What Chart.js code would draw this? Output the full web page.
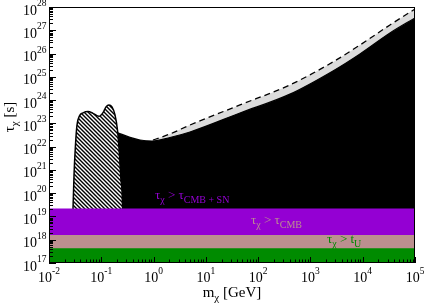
<!DOCTYPE html>
<html>
<head>
<meta charset="utf-8">
<script src="https://cdn.jsdelivr.net/npm/chart.js@4.4.1/dist/chart.umd.min.js"></script>
<style>
  html, body { margin: 0; padding: 0; background: #fff; }
  canvas { display: block; }
</style>
</head>
<body>
<canvas id="grafico" width="424" height="305" style="width:424px;height:305px"></canvas>
<script>
// ============================
// DADOS
// ============================
const massDecades = [-2, -1, 0, 1, 2, 3, 4, 5];
const tauDecades = [17, 18, 19, 20, 21, 22, 23, 24, 25, 26, 27, 28];

// regiao hachurada (dois picos)
const hatchMass = [0.0275, 0.0288, 0.0301, 0.0321, 0.0343, 0.0383, 0.0447, 0.0557, 0.0694, 0.0904,
                   0.108, 0.123, 0.140, 0.160, 0.183, 0.204, 0.223, 0.238, 0.255, 0.260];
const hatchTau = [1e17, 2.3e19, 6.0e20, 1.2e22, 8.5e22, 2.1e23, 2.8e23, 3.2e23, 2.7e23, 2.0e23,
                  2.9e23, 5.1e23, 6.2e23, 5.1e23, 2.3e23, 5.2e22, 4.4e21, 3.7e20, 2.3e19, 1e17];

// limite da regiao preta (linha cheia)
const boundMass = [0.209, 0.354, 0.550, 0.933, 2.06, 4.97, 45.0, 406, 2700, 8870, 33200, 1e5];
const boundTau = [3.9e22, 2.5e22, 1.93e22, 1.75e22, 2.47e22, 4.27e22, 2.79e23, 1.8e24, 1.78e25, 9.6e25, 7.65e26, 3.4e27];

// linha tracejada (topo da faixa cinza)
const dashMass = [0.975, 2.06, 4.97, 45.0, 406, 2700, 8870, 33200, 1e5];
const dashTau = [1.93e22, 3.5e22, 8.5e22, 6.2e23, 4.5e24, 4.35e25, 2.33e26, 1.69e27, 8.2e27];

// faixas horizontais: CMB+SN, CMB, idade do universo
const bandTau = [2.2e19, 1.6e18, 4.35e17];
const bandColors = ["#9400d3", "#bc8f8f", "#008b00"];

const massRange = [1e-2, 1e5];
const tauRange = [1e17, 1e28];

const SERIF = "'Liberation Serif', 'Times New Roman', serif";

function pontos(xs, ys) {
    return xs.map((v, i) => ({ x: v, y: ys[i] }));
}

// ============================
// PADRAO HACHURADO
// ============================
function criarHachura() {
    const p = document.createElement("canvas");
    p.width = 4; p.height = 4;
    const c = p.getContext("2d");
    c.fillStyle = "#fff";
    c.fillRect(0, 0, 4, 4);
    c.strokeStyle = "#000";
    c.lineWidth = 1.4;
    c.beginPath();
    c.moveTo(-1, -1); c.lineTo(5, 5);
    c.moveTo(-1, 3); c.lineTo(1, 5);
    c.moveTo(3, -1); c.lineTo(5, 1);
    c.stroke();
    return c.createPattern(p, "repeat");
}

// ============================
// TEXTO COM SUB/SOBRESCRITO
// ============================
function larguraTexto(ctx, partes) {
    let w = 0;
    partes.forEach(p => {
        ctx.font = p.size + "px " + SERIF;
        w += ctx.measureText(p.t).width;
    });
    return w;
}

function desenharTexto(ctx, x, y, partes) {
    partes.forEach(p => {
        ctx.font = p.size + "px " + SERIF;
        ctx.fillText(p.t, x, y + (p.dy || 0));
        x += ctx.measureText(p.t).width;
    });
}

const decorPlugin = {
    id: "decor",
    afterDatasetsDraw(chart) {
        const { ctx, chartArea: a, scales } = chart;
        const xs = scales.x, ys = scales.y;
        ctx.save();

        // borda
        ctx.strokeStyle = "#000";
        ctx.lineWidth = 1;
        ctx.strokeRect(a.left + 0.5, a.top + 0.5, a.right - a.left - 1, a.bottom - a.top - 1);

        // ticks para dentro
        ctx.beginPath();
        massDecades.forEach(e => {
            for (let k = 1; k <= 9; k++) {
                const v = k * Math.pow(10, e);
                if (v < massRange[0] || v > massRange[1]) continue;
                const px = Math.round(xs.getPixelForValue(v)) + 0.5;
                const len = k === 1 ? 6 : 3.5;
                ctx.moveTo(px, a.bottom);
                ctx.lineTo(px, a.bottom - len);
            }
        });
        tauDecades.forEach(e => {
            for (let k = 1; k <= 9; k++) {
                const v = k * Math.pow(10, e);
                if (v < tauRange[0] || v > tauRange[1]) continue;
                const py = Math.round(ys.getPixelForValue(v)) + 0.5;
                const len = k === 1 ? 7 : 4;
                ctx.moveTo(a.left, py);
                ctx.lineTo(a.left + len, py);
            }
        });
        ctx.stroke();

        // rotulos dos eixos
        ctx.fillStyle = "#000";
        ctx.textBaseline = "alphabetic";
        ctx.textAlign = "left";
        massDecades.forEach(e => {
            const px = xs.getPixelForValue(Math.pow(10, e));
            const partes = [{ t: "10", size: 14 }, { t: String(e), size: 9.5, dy: -8.5 }];
            const w = larguraTexto(ctx, partes);
            desenharTexto(ctx, px - w / 2, a.bottom + 19, partes);
        });
        tauDecades.forEach(e => {
            const py = ys.getPixelForValue(Math.pow(10, e));
            const partes = [{ t: "10", size: 14 }, { t: String(e), size: 9.5, dy: -8.5 }];
            const w = larguraTexto(ctx, partes);
            desenharTexto(ctx, 46.5 - w, py + 7.5, partes);
        });

        // titulo eixo x
        const tituloX = [{ t: "m", size: 15 }, { t: "\u03c7", size: 11, dy: 4 }, { t: " [GeV]", size: 15 }];
        const wx = larguraTexto(ctx, tituloX);
        desenharTexto(ctx, (a.left + a.right) / 2 - wx / 2, 297, tituloX);

        // titulo eixo y
        const tituloY = [{ t: "\u03c4", size: 15 }, { t: "\u03c7", size: 11, dy: 4 }, { t: " [s]", size: 15 }];
        const wy = larguraTexto(ctx, tituloY);
        ctx.save();
        ctx.translate(14, 117);
        ctx.rotate(-Math.PI / 2);
        desenharTexto(ctx, -wy / 2, 0, tituloY);
        ctx.restore();

        // anotacoes das faixas
        ctx.fillStyle = bandColors[0];
        desenharTexto(ctx, 155, 199, [
            { t: "\u03c4", size: 13 }, { t: "\u03c7", size: 10, dy: 4 }, { t: " > ", size: 13 },
            { t: "\u03c4", size: 13 }, { t: "CMB + SN", size: 10, dy: 4 }
        ]);
        ctx.fillStyle = bandColors[1];
        desenharTexto(ctx, 251, 224, [
            { t: "\u03c4", size: 13 }, { t: "\u03c7", size: 10, dy: 4 }, { t: " > ", size: 13 },
            { t: "\u03c4", size: 13 }, { t: "CMB", size: 10, dy: 4 }
        ]);
        ctx.fillStyle = bandColors[2];
        desenharTexto(ctx, 327, 243, [
            { t: "\u03c4", size: 13 }, { t: "\u03c7", size: 10, dy: 4 }, { t: " > ", size: 13 },
            { t: "t", size: 13 }, { t: "U", size: 10, dy: 4 }
        ]);

        ctx.restore();
    }
};

// ============================
// DATASETS
// ============================
const datasets = [];

// faixas (ordem baixa = por cima)
bandTau.forEach((t, i) => {
    datasets.push({
        data: pontos(massRange, [t, t]),
        borderWidth: 0,
        backgroundColor: bandColors[i],
        fill: "start",
        order: 2 - i
    });
});

datasets.push({
    data: pontos(hatchMass, hatchTau),
    borderColor: "#000",
    borderWidth: 1.5,
    backgroundColor: criarHachura(),
    fill: "start",
    cubicInterpolationMode: "monotone",
    order: 3
});

datasets.push({
    data: pontos(boundMass, boundTau),
    borderColor: "#000",
    borderWidth: 1.2,
    backgroundColor: "#000",
    fill: "start",
    cubicInterpolationMode: "monotone",
    order: 4
});

datasets.push({
    data: pontos(dashMass, dashTau),
    borderColor: "#000",
    borderWidth: 1.3,
    borderDash: [6, 4],
    backgroundColor: "#dcdcdc",
    fill: "start",
    cubicInterpolationMode: "monotone",
    order: 5
});

new Chart(document.getElementById("grafico"), {
    type: "line",
    data: { datasets },
    options: {
        responsive: false,
        animation: false,
        events: [],
        layout: { padding: { left: 49, right: 9, top: 7, bottom: 42 } },
        elements: { point: { radius: 0 } },
        plugins: { legend: { display: false }, tooltip: { enabled: false } },
        scales: {
            x: { type: "logarithmic", min: massRange[0], max: massRange[1], display: false },
            y: { type: "logarithmic", min: tauRange[0], max: tauRange[1], display: false }
        }
    },
    plugins: [decorPlugin]
});
</script>
</body>
</html>
